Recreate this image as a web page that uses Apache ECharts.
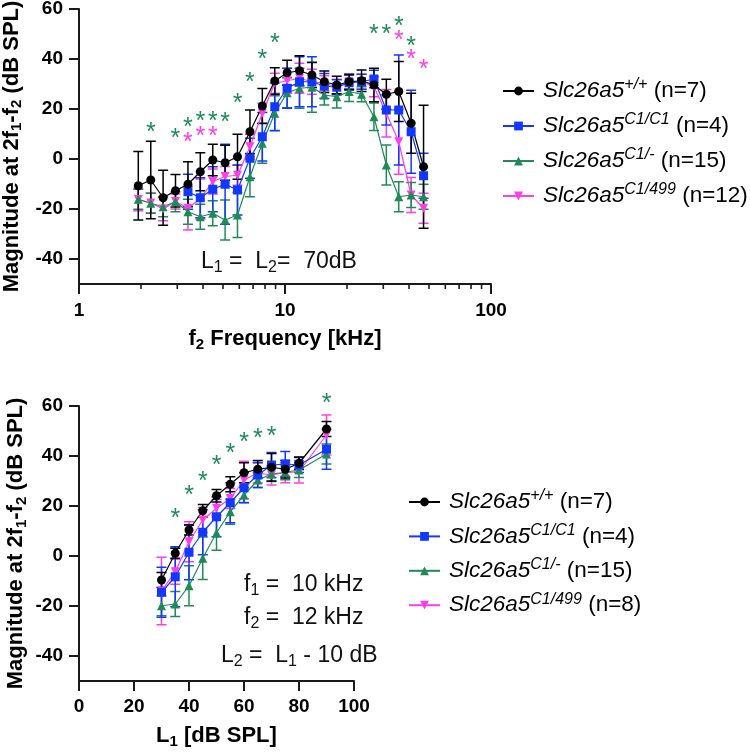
<!DOCTYPE html>
<html><head><meta charset="utf-8">
<script src="https://cdn.jsdelivr.net/npm/echarts@6/dist/echarts.min.js"></script>
<style>html,body{margin:0;padding:0;background:#fff}#c{width:750px;height:756px}</style>
</head><body><div id="c"></div>
<script>
const FONT = '"Liberation Sans", Arial, Helvetica, sans-serif';

// ---------- Top panel: DP-gram vs f2 frequency (kHz) ----------
const freqs = [1.94, 2.23, 2.56, 2.94, 3.38, 3.88, 4.46, 5.12, 5.88, 6.76, 7.76, 8.92,
               10.24, 11.76, 13.51, 15.52, 17.83, 20.48, 23.53, 27.03, 31.04, 35.66, 40.96, 47.05];
const topWtMean   = [-10.7, -8.4, -15.5, -12.7, -10.1, -5.1, -0.4, -1.5, 0.9, 10.9, 21.2, 31.2,
                     34.5, 35.3, 33.6, 30.9, 29.6, 30.9, 31.3, 29.6, 25.9, 27.0, 14.3, -3.1];
const topWtErr    = [13.7, 15.5, 11, 6.5, 9, 7.6, 6.3, 7, 9, 8.7, 7, 5.3,
                     5, 6, 5, 4.3, 3.5, 3, 4.3, 6.7, 6, 12, 12, 24.6];
const topC1C1Mean = [null, null, null, null, -13.1, -15.5, -12.1, -10.1, -12.4, 0.3, 8.9, 20.9,
                     28.3, 30.9, 30.9, 29.2, 28.7, 30.5, 30.9, 32.0, 19.6, 19.6, 10.9, -6.7];
const topC1C1Err  = [null, null, null, null, 7, 8, 9, 16, 10, 8, 9.7, 9.5,
                     8, 10, 10, 5, 3, 3, 3, 3.5, 6, 22, 16.6, 9];
const topC1KOMean = [-16.1, -17.7, -19.1, -17.1, -21.1, -23.1, -21.7, -24.4, -22.4, -7.1, 6.3, 18.3,
                     26.5, 28.3, 28.7, 25.6, 24.9, 27.0, 25.9, 16.9, -2.4, -15.1, -14.4, -15.1];
const topC1KOErr  = [4, 4, 4, 4, 5, 5, 5, 8, 9, 8, 8, 7,
                     6, 8, 10, 4, 4.5, 4, 3, 5.5, 8, 6, 5, 5];
const topC1499Mean = [-16.2, -17.6, -20, -17, -19.7, -16, -9, -7, -6.5, 4.9, 18.3, 30.3,
                      31.3, 32.3, 30.9, 30.3, 28.9, 30.9, 30.9, 28.9, 18.3, 6.9, -14.4, -19.7];
const topC1499Err  = [4.5, 4, 4.7, 3, 8.7, 8, 5, 4, 4, 5, 4, 4,
                      5, 6, 5, 3, 3, 3, 3, 4, 9.5, 13, 7, 6];
const topGreenStarF = [2.23, 2.94, 3.38, 3.88, 4.46, 5.12, 5.88, 6.76, 7.76, 8.92, 27.03, 31.04, 35.66, 40.96];
const topGreenStarY = [12.7, 10.5, 14.7, 17.3, 17.3, 16.7, 24.5, 32.7, 41.9, 48.3, 51.9, 51.9, 55.3, 47.3];
const topPinkStarF  = [3.38, 3.88, 4.46, 35.66, 40.96, 47.05];
const topPinkStarY  = [8.7, 11.2, 11.2, 49.6, 41.9, 37.9];
const topMajorTicks = [1, 10, 100];
const topMinorTicks = [2, 3, 4, 5, 6, 7, 8, 9, 20, 30, 40, 50, 60, 70, 80, 90];
const topLegendN = ['7', '4', '15', '12'];

// ---------- Bottom panel: growth function vs L1 (dB SPL) ----------
const levels = [30, 35, 40, 45, 50, 55, 60, 65, 70, 75, 80, 90];
const botWtMean    = [-9.6, 1.1, 10.4, 18.1, 24.1, 28.7, 33.3, 34.7, 35.5, 34.7, 37.1, 50.8];
const botWtErr     = [3, 2, 2, 2.5, 2.5, 3, 4, 3.5, 5.5, 3.5, 2.5, 3];
const botC1C1Mean  = [-14.5, -8.3, 1.5, 9.5, 15.7, 21.3, 27.3, 32.4, 36.4, 36.8, 36.4, 42.7];
const botC1C1Err   = [10, 12, 11, 9, 8, 8, 6, 5, 5, 5, 3, 8];
const botC1KOMean  = [-19.9, -19.2, -11.9, -0.9, 9.3, 17.7, 24.4, 30.4, 32.8, 33.5, 34.4, 40.8];
const botC1KOErr   = [4, 5, 8, 8.5, 7, 5, 3, 3, 3, 3, 3, 4];
const botC1499Mean = [-14, -6.3, 5.7, 14.4, 19.1, 23, 30.4, 33.2, 32.4, 33.3, 33.7, 48.4];
const botC1499Err  = [13.5, 5, 8, 5, 3.5, 4, 7.5, 4, 4, 4, 4.5, 8];
const botGreenStarX = [35, 40, 45, 50, 55, 60, 65, 70, 90];
const botGreenStarY = [17.1, 26.4, 32.1, 38.4, 43.3, 47.5, 49.1, 50, 63.1];
const botLegendN = ['7', '4', '15', '8'];

const yTicks = [-40, -20, 0, 20, 40, 60];
const genotypes = ['+/+', 'C1/C1', 'C1/-', 'C1/499'];

// ---------- styles ----------
const COL = { wt: '#000000', c1c1: '#1238ff', c1ko: '#1f8a58', c1499: '#ff3ee8' };
const SYM = { wt: 'circle', c1c1: 'rect', c1ko: 'triangle', c1499: 'path://M0,0 L10,0 L5,10 Z' };
const SYMSIZE = { wt: 9, c1c1: 9, c1ko: 9, c1499: 9 };
const AXIS_COLOR = '#1a1a1a';

function pairs(xs, ys) {
  const out = [];
  xs.forEach((x, i) => { if (ys[i] !== null && ys[i] !== undefined) out.push([x, ys[i]]); });
  return out;
}
function errData(xs, m, e) {
  const out = [];
  xs.forEach((x, i) => { if (m[i] !== null && m[i] !== undefined) out.push([x, m[i] - e[i], m[i] + e[i]]); });
  return out;
}
function errSeries(key, xi, yi, data) {
  const c = COL[key];
  return {
    type: 'custom', xAxisIndex: xi, yAxisIndex: yi, clip: false, silent: true,
    encode: { x: 0, y: [1, 2] },
    data: data,
    renderItem: function (params, api) {
      const lo = api.coord([api.value(0), api.value(1)]);
      const hi = api.coord([api.value(0), api.value(2)]);
      const w = 5;
      const st = { stroke: c, lineWidth: 1.5 };
      return { type: 'group', children: [
        { type: 'line', shape: { x1: lo[0], y1: lo[1], x2: hi[0], y2: hi[1] }, style: st },
        { type: 'line', shape: { x1: lo[0] - w, y1: lo[1], x2: lo[0] + w, y2: lo[1] }, style: st },
        { type: 'line', shape: { x1: hi[0] - w, y1: hi[1], x2: hi[0] + w, y2: hi[1] }, style: st }
      ] };
    }
  };
}
function lineSeries(name, key, xi, yi, data) {
  return {
    name: name, type: 'line', xAxisIndex: xi, yAxisIndex: yi,
    data: data, symbol: SYM[key], symbolSize: SYMSIZE[key], showSymbol: true,
    lineStyle: { color: COL[key], width: 1.2 },
    itemStyle: { color: COL[key], borderWidth: 0 },
    emphasis: { disabled: true }, animation: false, connectNulls: false
  };
}
function starSeries(color, xi, yi, xs, ys) {
  return {
    type: 'custom', xAxisIndex: xi, yAxisIndex: yi, clip: false, silent: true,
    data: pairs(xs, ys),
    renderItem: function (params, api) {
      const p = api.coord([api.value(0), api.value(1)]);
      return { type: 'text', x: p[0], y: p[1] + 6,
        style: { text: '*', fill: color, fontSize: 25, fontFamily: FONT, align: 'center', verticalAlign: 'middle' } };
    }
  };
}
// tick marks for the log axis (major 1/10/100, minor 2..9, 20..90), placed through the axis' own scale
function tickMarkSeries(xi, yi, xs, yBase, len, w) {
  return {
    type: 'custom', xAxisIndex: xi, yAxisIndex: yi, clip: false, silent: true, z: 10,
    encode: { x: 0, y: 1 },
    data: xs.map(v => [v, yBase]),
    renderItem: function (params, api) {
      const p = api.coord([api.value(0), api.value(1)]);
      return { type: 'rect', shape: { x: p[0] - w / 2, y: p[1], width: w, height: len },
        style: { fill: AXIS_COLOR } };
    }
  };
}

const labelStyle = { color: '#000', fontFamily: FONT, fontWeight: 'bold', fontSize: 19 };
const nameRich = {
  b: { fontFamily: FONT, fontWeight: 'bold', fontSize: 22, lineHeight: 26, color: '#000' },
  s: { fontFamily: FONT, fontWeight: 'bold', fontSize: 15, lineHeight: 12, verticalAlign: 'bottom', color: '#000' }
};
const annRich = {
  a: { fontFamily: FONT, fontSize: 23, lineHeight: 28, fill: '#111', color: '#111' },
  s: { fontFamily: FONT, fontSize: 16, lineHeight: 12, verticalAlign: 'bottom', fill: '#111', color: '#111' }
};
const legendRich = {
  it: { fontFamily: FONT, fontStyle: 'italic', fontSize: 22.5, lineHeight: 28, color: '#000', padding: [0, 0, 0, 4] },
  sup: { fontFamily: FONT, fontStyle: 'italic', fontSize: 16, lineHeight: 14, verticalAlign: 'top', color: '#000' },
  n: { fontFamily: FONT, fontSize: 22.5, lineHeight: 28, color: '#000' }
};

const topNames = ['t_wt', 't_c1c1', 't_c1ko', 't_c1499'];
const botNames = ['b_wt', 'b_c1c1', 'b_c1ko', 'b_c1499'];
function legendFormatter(names, ns) {
  return function (name) {
    const i = names.indexOf(name);
    return '{it|Slc26a5}{sup|' + genotypes[i] + '}{n| (n=' + ns[i] + ')}';
  };
}
function yAxisCfg(gi) {
  return {
    type: 'value', gridIndex: gi, min: -50, max: 60,
    axisLine: { show: true, lineStyle: { color: AXIS_COLOR, width: 2 } },
    axisTick: { show: true, length: 10, customValues: yTicks, lineStyle: { color: AXIS_COLOR, width: 2 } },
    axisLabel: { customValues: yTicks, margin: 16, ...labelStyle },
    splitLine: { show: false },
    name: '{b|Magnitude at 2f}{s|1}{b|-f}{s|2}{b| (dB SPL)}',
    nameLocation: 'middle', nameGap: 50, nameRotate: 90,
    nameTextStyle: { rich: nameRich }
  };
}

const option = {
  animation: false,
  backgroundColor: '#ffffff',
  grid: [
    { left: 79, top: 9, width: 412, height: 275, containLabel: false, outerBoundsMode: 'none' },
    { left: 79, top: 406, width: 275, height: 275, containLabel: false, outerBoundsMode: 'none' }
  ],
  xAxis: [
    {
      type: 'log', logBase: 10, gridIndex: 0, min: 1, max: 100,
      axisLine: { show: true, onZero: false, lineStyle: { color: AXIS_COLOR, width: 2 } },
      axisTick: { show: false },
      axisLabel: { margin: 17, customValues: topMajorTicks, ...labelStyle, formatter: v => String(v) },
      splitLine: { show: false },
      name: '{b|f}{s|2}{b| Frequency [kHz]}', nameLocation: 'middle', nameGap: 42,
      nameTextStyle: { rich: nameRich }
    },
    {
      type: 'value', gridIndex: 1, min: 0, max: 100, interval: 20,
      axisLine: { show: true, onZero: false, lineStyle: { color: AXIS_COLOR, width: 2 } },
      axisTick: { show: true, length: 10, lineStyle: { color: AXIS_COLOR, width: 2 } },
      axisLabel: { margin: 16, ...labelStyle },
      splitLine: { show: false },
      name: '{b|L}{s|1}{b| [dB SPL]}', nameLocation: 'middle', nameGap: 42,
      nameTextStyle: { rich: nameRich }
    }
  ],
  yAxis: [yAxisCfg(0), yAxisCfg(1)],
  legend: [
    {
      data: topNames, orient: 'vertical', left: 497, top: 72, itemWidth: 31, itemHeight: 11,
      itemGap: 9.5, formatter: legendFormatter(topNames, topLegendN),
      textStyle: { rich: legendRich }, selectedMode: false,
      lineStyle: { width: 2 }
    },
    {
      data: botNames, orient: 'vertical', left: 403, top: 483, itemWidth: 31, itemHeight: 11,
      itemGap: 8.9, formatter: legendFormatter(botNames, botLegendN),
      textStyle: { rich: legendRich }, selectedMode: false,
      lineStyle: { width: 2 }
    }
  ],
  graphic: [
    { type: 'text', left: 201, top: 250, silent: true,
      style: { text: '{a|L}{s|1}{a| =  L}{s|2}{a|=  70dB}', rich: annRich, fill: '#111', fontSize: 23, fontFamily: FONT } },
    { type: 'text', left: 244, top: 573, silent: true,
      style: { text: '{a|f}{s|1}{a| =  10 kHz}', rich: annRich, fill: '#111', fontSize: 23, fontFamily: FONT } },
    { type: 'text', left: 244, top: 606, silent: true,
      style: { text: '{a|f}{s|2}{a| =  12 kHz}', rich: annRich, fill: '#111', fontSize: 23, fontFamily: FONT } },
    { type: 'text', left: 221, top: 644, silent: true,
      style: { text: '{a|L}{s|2}{a| =  L}{s|1}{a| - 10 dB}', rich: annRich, fill: '#111', fontSize: 23, fontFamily: FONT } }
  ],
  series: [
    tickMarkSeries(0, 0, topMajorTicks, -50, 10, 2),
    tickMarkSeries(0, 0, topMinorTicks, -50, 5, 1.6),
    errSeries('c1499', 0, 0, errData(freqs, topC1499Mean, topC1499Err)),
    lineSeries('t_c1499', 'c1499', 0, 0, pairs(freqs, topC1499Mean)),
    errSeries('c1ko', 0, 0, errData(freqs, topC1KOMean, topC1KOErr)),
    lineSeries('t_c1ko', 'c1ko', 0, 0, pairs(freqs, topC1KOMean)),
    errSeries('c1c1', 0, 0, errData(freqs, topC1C1Mean, topC1C1Err)),
    lineSeries('t_c1c1', 'c1c1', 0, 0, pairs(freqs, topC1C1Mean)),
    errSeries('wt', 0, 0, errData(freqs, topWtMean, topWtErr)),
    lineSeries('t_wt', 'wt', 0, 0, pairs(freqs, topWtMean)),
    starSeries(COL.c1ko, 0, 0, topGreenStarF, topGreenStarY),
    starSeries(COL.c1499, 0, 0, topPinkStarF, topPinkStarY),
    errSeries('c1499', 1, 1, errData(levels, botC1499Mean, botC1499Err)),
    lineSeries('b_c1499', 'c1499', 1, 1, pairs(levels, botC1499Mean)),
    errSeries('c1ko', 1, 1, errData(levels, botC1KOMean, botC1KOErr)),
    lineSeries('b_c1ko', 'c1ko', 1, 1, pairs(levels, botC1KOMean)),
    errSeries('c1c1', 1, 1, errData(levels, botC1C1Mean, botC1C1Err)),
    lineSeries('b_c1c1', 'c1c1', 1, 1, pairs(levels, botC1C1Mean)),
    errSeries('wt', 1, 1, errData(levels, botWtMean, botWtErr)),
    lineSeries('b_wt', 'wt', 1, 1, pairs(levels, botWtMean)),
    starSeries(COL.c1ko, 1, 1, botGreenStarX, botGreenStarY)
  ]
};
const chart = echarts.init(document.getElementById('c'), null, { renderer: 'canvas' });
chart.setOption(option);
</script>
</body></html>
